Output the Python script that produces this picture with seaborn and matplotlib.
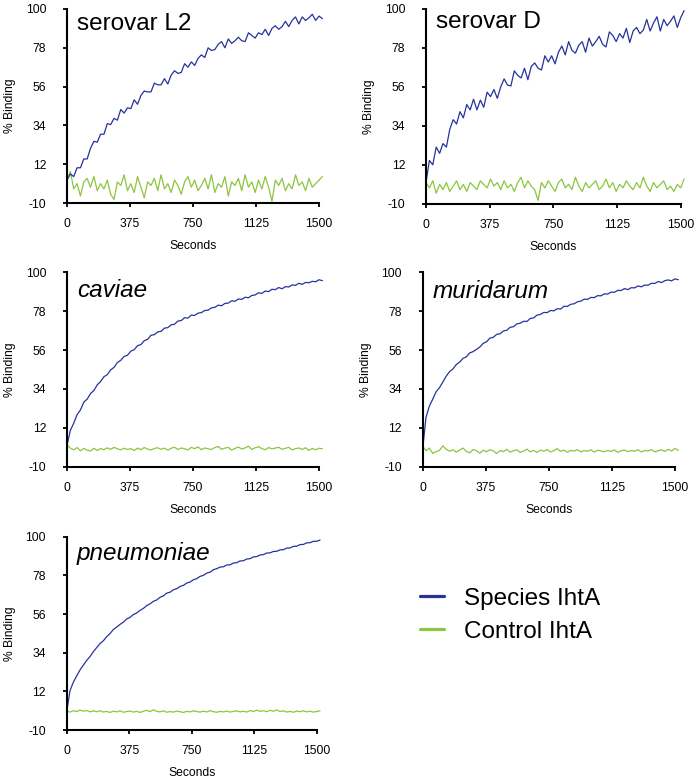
import pandas as pd
import matplotlib
matplotlib.use("Agg")
import matplotlib.pyplot as plt
from matplotlib.lines import Line2D
import seaborn as sns

# sample times (s), one reading every 20 s
seconds = list(range(0, 1521, 20))

l2_species = [3, 6.5, 5, 10, 10, 15, 15, 21, 25, 24.5,
              29, 29, 35, 34.5, 38, 37, 43, 41, 44, 43.5,
              48.5, 46, 51, 53.5, 53, 53, 58, 57, 57, 60.5,
              57.5, 62.5, 65, 63.5, 64, 69, 67, 70, 68, 72,
              74, 72.5, 78, 76.5, 77, 80, 81.5, 78, 83, 80.5,
              82, 84, 82, 81.5, 86.5, 85, 83.5, 86.5, 85.5, 88.5,
              85, 89, 90.5, 88.5, 90, 93, 90, 93.5, 95.5, 91.5,
              95.5, 93.5, 95, 97, 93.5, 96, 94.5]
l2_control = [3, 8, -2, 1, -6, 2, 4, -1, 5, -3,
              1, -2, 3, -5, -8, 2, 0, 6, -3, 1,
              -4, 5, -1, -7, 2, 0, 4, -3, 6, -2,
              1, -4, 3, 0, -5, 2, 5, -1, 3, -3,
              0, 4, -2, 6, -4, 1, -1, 5, -6, 2,
              0, 4, -3, 6, -1, 2, -4, 3, -2, 5,
              -1, -9, 3, 0, 4, -3, 1, -2, 6, 0,
              2, -3, 4, -1, 1, 3, 5]

d_species = [2, 14.5, 12, 22, 18.5, 24, 22, 32, 37.5, 35,
             42, 38.5, 46, 43, 49, 43, 48.5, 44.5, 53, 50.5,
             54.5, 49.5, 56, 60.5, 57, 56.5, 65, 62.5, 61, 66.5,
             60, 67.5, 69.5, 66.5, 65.5, 73.5, 70, 73.5, 69, 75.5,
             79, 74, 81.5, 76.5, 75, 79.5, 81.5, 75.5, 83.5, 79,
             81.5, 84.5, 80, 78.5, 87, 85, 81.5, 86, 83.5, 89,
             81, 87.5, 89.5, 86, 88, 94, 87.5, 92, 95.5, 87.5,
             94, 90.5, 93, 96, 89.5, 95, 99]
d_control = [2, -1, 3, -4, 1, -2, 2, -3, 0, 3,
             -2, 1, -3, 2, 0, -2, 3, 1, -1, 4,
             0, 2, -2, 3, -1, 1, -3, 2, 5, -1,
             3, 0, -2, -8, 2, -1, 3, 0, -3, 2,
             4, -1, 1, -2, 5, 0, -3, 2, -1, 1,
             3, -2, 0, 4, -1, 2, -3, 1, -1, 3,
             0, -2, 2, -1, 5, 0, -3, 2, -1, 1,
             3, -2, 0, -3, 1, -1, 4]

caviae_species = [2, 10.5, 14.6, 19.4, 22.1, 26.5, 28.2, 31.4, 33.1, 36.3,
                  38.2, 40.9, 42.1, 44.8, 46.2, 48.9, 50.2, 52.4, 53.1, 55.4,
                  56.2, 58.5, 59.1, 61.3, 62.1, 64.4, 64.7, 66.3, 66.6, 68.4,
                  68.7, 70.3, 70.6, 72.4, 72.7, 74.3, 74.1, 75.8, 75.6, 76.9,
                  77.2, 78.4, 78.6, 79.9, 80.2, 81.4, 81.1, 82.4, 82.6, 83.9,
                  83.6, 84.9, 84.7, 85.9, 85.6, 86.9, 87.2, 88.4, 88.1, 89.4,
                  89.1, 90.4, 90.2, 91.4, 90.7, 91.9, 91.7, 92.9, 92.6, 93.8,
                  93.2, 94.3, 94.1, 94.9, 94.7, 95.8, 95.3]
caviae_control = [2.5, 0.5, -0.5, 0.8, -1.0, 0.3, -0.6, -1.2, 0.4, -0.8,
                  0.2, -0.4, 0.6, -0.2, 0.9, 0.1, -0.5, 0.4, -0.3, 0.2,
                  -0.9, 0.5, -0.4, 0.8, 0.0, -0.6, 0.3, 0.7, -0.2, 0.5,
                  -0.7, 0.4, 1.0, -0.3, 0.6, 0.1, -0.5, 0.9, 0.2, 1.2,
                  -0.4, 0.6, 0.1, -0.3, 0.8, 1.4, -0.2, 0.5, 0.9, -0.6,
                  0.3, 1.1, 0.0, 0.6, 1.6, -0.3, 0.7, 1.3, 0.2, -0.4,
                  0.8, 0.1, 0.5, 1.0, -0.2, 0.4, 0.9, -0.5, 0.2, 0.6,
                  -0.3, 0.7, -0.8, 0.3, -0.5, 0.4, 0.1]

muridarum_species = [0, 18, 24.3, 28.2, 32.4, 34.7, 37.9, 41.2, 43.8, 45.3,
                     47.8, 49.2, 51.3, 52.2, 54.4, 55.1, 56.4, 57.7, 59.8, 60.7,
                     62.8, 63.2, 64.9, 65.2, 66.8, 67.2, 68.9, 69.2, 70.8, 71.2,
                     72.3, 72.2, 73.9, 74.2, 75.8, 76.2, 77.3, 77.2, 78.4, 78.2,
                     79.4, 79.2, 80.8, 80.7, 81.9, 82.2, 83.3, 83.7, 84.8, 84.7,
                     85.8, 85.7, 86.8, 86.7, 87.8, 87.7, 88.8, 88.7, 89.8, 89.7,
                     90.8, 90.2, 91.3, 91.2, 92.3, 91.8, 92.8, 92.7, 93.8, 93.7,
                     94.8, 94.2, 95.3, 95.7, 95.2, 96.3, 95.8]
muridarum_control = [1.5, -1.0, 0.5, -2.5, -1.5, -0.8, 1.8, -0.2, -1.2, -0.5,
                     -1.8, -0.6, 0.5, -1.4, -2.2, -0.3, -1.0, -2.4, -0.7, -1.6,
                     -0.4, -1.1, -2.6, -0.9, -1.5, -0.2, -1.8, -1.0, -0.5, -1.9,
                     -1.2, -0.1, -1.6, -0.8, -2.0, -0.6, -1.3, -0.3, -1.7, -1.0,
                     0.2, -1.4, -0.6, -1.9, -0.8, -1.2, -0.4, -1.6, -0.9, -1.3,
                     -0.5, -1.8, -0.7, -1.1, -1.6, -0.8, -1.4, -0.5, -1.9, -1.0,
                     -0.6, -1.5, -0.9, -1.3, -0.4, -1.7, -0.8, -1.2, -0.3, -1.6,
                     -1.0, -0.5, -1.4, -0.2, -1.1, 0.3, -0.8]

pneumoniae_species = [0.5, 12.5, 17.2, 20.8, 24.2, 26.9, 29.6, 31.8, 34.6, 36.9,
                      39.2, 40.8, 43.1, 44.9, 47.2, 48.6, 50.1, 51.4, 53.2, 54.1,
                      55.7, 56.6, 58.1, 59.2, 60.8, 61.8, 63.2, 64.0, 65.5, 66.3,
                      67.9, 68.4, 69.8, 70.4, 71.7, 72.3, 73.6, 74.2, 75.5, 76.1,
                      77.4, 78.0, 79.3, 79.8, 81.2, 81.8, 82.7, 82.9, 83.9, 84.0,
                      85.0, 85.2, 86.2, 86.3, 87.3, 87.5, 88.5, 88.7, 89.6, 89.8,
                      90.7, 90.8, 91.6, 91.7, 92.5, 92.6, 93.5, 93.6, 94.5, 94.6,
                      95.5, 95.6, 96.5, 96.6, 97.4, 97.4, 98.1]
pneumoniae_control = [0.8, 0.2, 1.0, 0.5, 1.3, 0.7, 1.1, 0.3, 0.9, 0.4,
                      1.0, 0.2, 0.6, 0.0, 0.7, 0.3, 0.9, 0.1, 0.5, 0.8,
                      0.2, 0.6, 0.0, 0.7, 1.2, 0.4, 1.5, 0.6, 0.3, 0.9,
                      0.1, 0.5, 0.2, 0.8, 0.4, 0.0, 0.6, 0.3, 0.9, 0.5,
                      0.2, 0.7, 0.3, 1.0, 0.4, 0.1, 0.6, 0.3, 0.8, 0.2,
                      0.6, 0.9, 0.3, 0.7, 0.2, 1.1, 0.5, 1.3, 0.6, 1.0,
                      0.4, 1.2, 0.7, 1.4, 0.5, 0.9, 0.2, 0.6, 0.1, 0.8,
                      0.4, 1.0, 0.3, 0.7, 0.2, 0.5, 0.9]

x_ticks = [0, 375, 750, 1125, 1500]
y_ticks = [-10, 12, 34, 56, 78, 100]
series_names = ["Species IhtA", "Control IhtA"]
colors = {"Species IhtA": "#25339b", "Control IhtA": "#8cc540"}

panels = [
    ("serovar L2", "normal", l2_species, l2_control, [0.0961, 0.740, 0.3616, 0.2485], 0.89),
    ("serovar D", "normal", d_species, d_control, [0.6112, 0.739, 0.3654, 0.2497], 0.90),
    ("caviae", "italic", caviae_species, caviae_control, [0.0961, 0.4025, 0.3616, 0.2488], 0.875),
    ("muridarum", "italic", muridarum_species, muridarum_control, [0.6064, 0.4025, 0.362, 0.2488], 0.867),
    ("pneumoniae", "italic", pneumoniae_species, pneumoniae_control, [0.0957, 0.0653, 0.3587, 0.2475], 0.88),
]

sns.set_style("ticks")
plt.rcParams["font.family"] = ["Liberation Sans", "DejaVu Sans"]
plt.rcParams.update({
    "text.color": "black",
    "axes.labelcolor": "black",
    "xtick.color": "black",
    "ytick.color": "black",
    "axes.unicode_minus": False,
})

fig = plt.figure(figsize=(6.97, 7.81), dpi=100)

for title, style, species, control, rect, ty in panels:
    ax = fig.add_axes(rect)
    df = pd.DataFrame({
        "Seconds": seconds + seconds,
        "Binding": species + control,
        "series": [series_names[0]] * len(seconds) + [series_names[1]] * len(seconds),
    })
    sns.lineplot(data=df, x="Seconds", y="Binding", hue="series", palette=colors,
                 hue_order=series_names[::-1], estimator=None, legend=False,
                 linewidth=0.9, ax=ax, clip_on=False)
    ax.set_xlim(0, 1500)
    ax.set_ylim(-10, 100)
    ax.set_xticks(x_ticks)
    ax.set_yticks(y_ticks)
    ax.tick_params(axis="both", labelsize=8.7, width=1.3, length=3,
                   color="black", labelcolor="black")
    ax.tick_params(axis="y", pad=12)
    ax.tick_params(axis="x", pad=8)
    for side in ["left", "bottom"]:
        ax.spines[side].set_linewidth(1.5)
        ax.spines[side].set_color("black")
    sns.despine(ax=ax)
    ax.set_xlabel("Seconds", fontsize=8.7, labelpad=7, color="black")
    ax.set_ylabel("% Binding", fontsize=8.7, labelpad=7, color="black")
    ax.text(0.04, ty, title, transform=ax.transAxes, fontsize=17.5,
            fontstyle=style, va="baseline", ha="left", color="black")

handles = [Line2D([], [], color=colors[n], linewidth=2.3) for n in series_names]
leg = fig.legend(handles, series_names, loc="center left", bbox_to_anchor=(0.6026, 0.2125),
                 frameon=False, fontsize=17.5, handlelength=1.0, handletextpad=0.8,
                 labelspacing=0.45, borderpad=0, borderaxespad=0)
for t in leg.get_texts():
    t.set_color("black")

fig.savefig("out.png", dpi=100)
plt.close(fig)
